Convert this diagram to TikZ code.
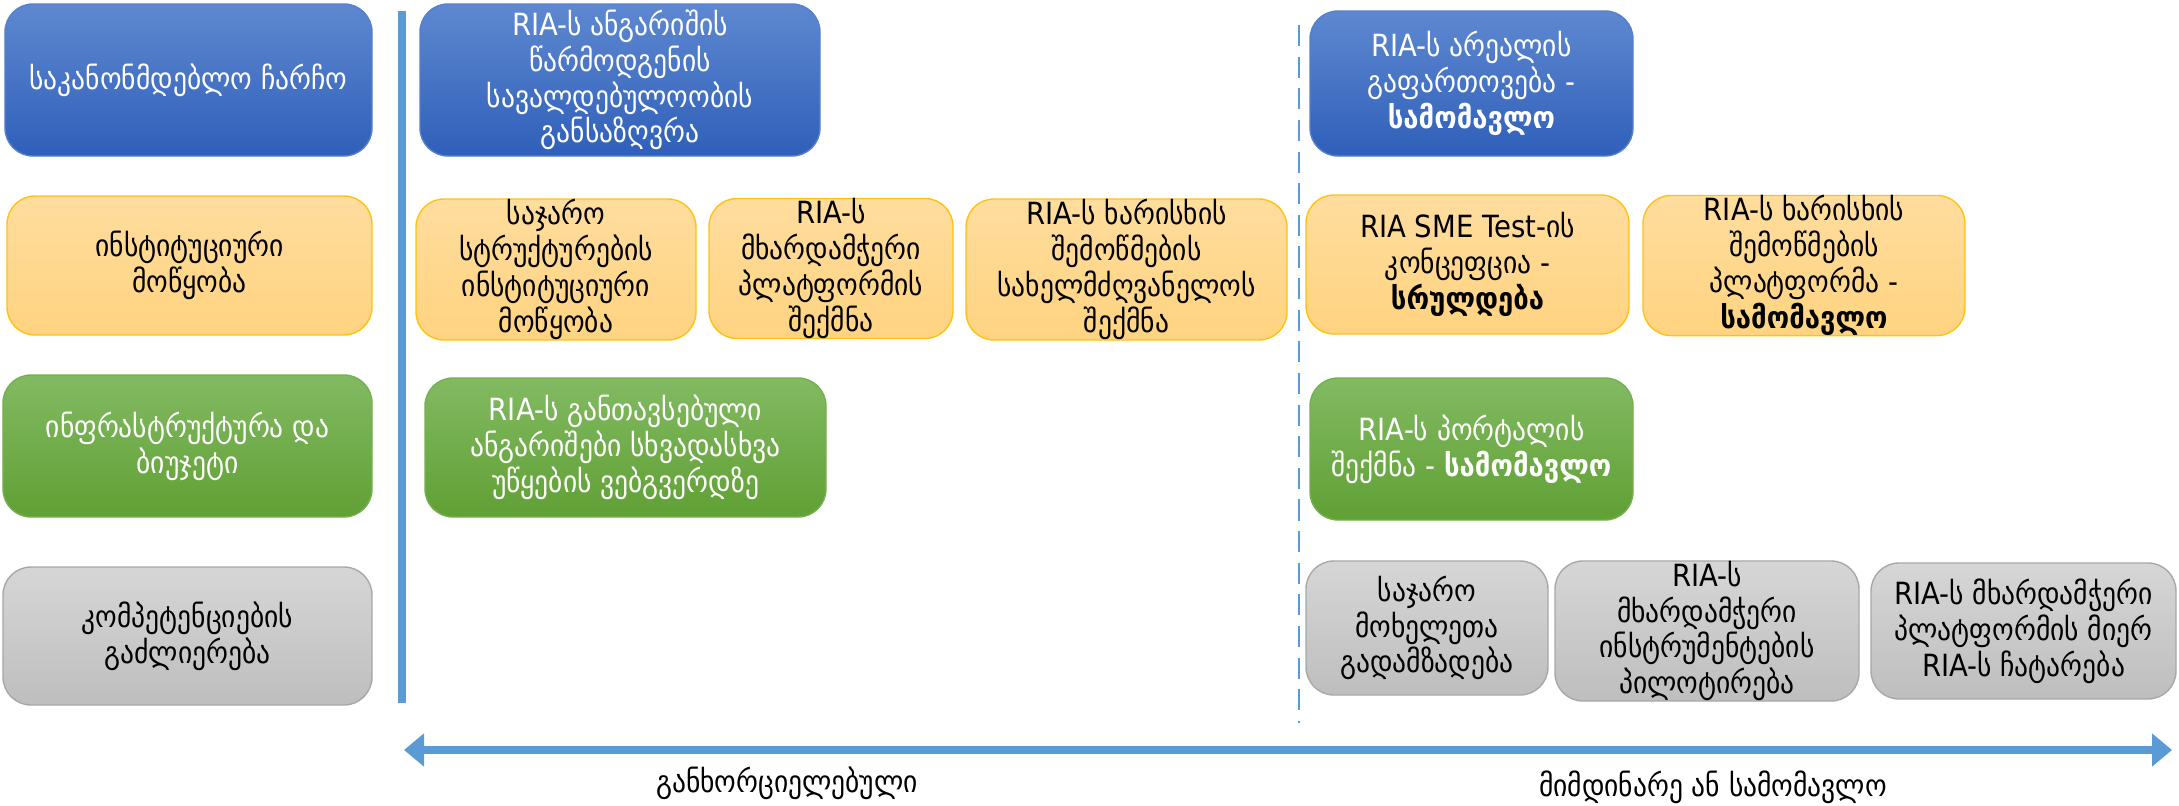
\documentclass[tikz,border=0pt]{standalone}
\usepackage{fontspec}
\setmainfont[FakeStretch=0.9]{DejaVu Sans}
\usepackage{tikz}
\usetikzlibrary{arrows.meta}

\definecolor{bluetop}{RGB}{94,136,208}
\definecolor{bluebot}{RGB}{47,95,185}
\definecolor{orangetop}{RGB}{255,221,158}
\definecolor{orangebot}{RGB}{255,211,128}
\definecolor{orangeline}{RGB}{255,194,20}
\definecolor{greentop}{RGB}{130,186,98}
\definecolor{greenbot}{RGB}{96,160,52}
\definecolor{graytop}{RGB}{214,214,214}
\definecolor{graybot}{RGB}{190,190,190}
\definecolor{grayline}{RGB}{168,168,168}
\definecolor{axisblue}{RGB}{91,155,213}

\tikzset{
  box/.style={rounded corners=0.28cm, align=center, inner sep=0pt,
    font=\fontsize{8.7}{10.2}\selectfont},
  bluebox/.style={box, top color=bluetop, bottom color=bluebot, draw=bluetop!80!bluebot, text=white},
  orangebox/.style={box, top color=orangetop, bottom color=orangebot, draw=orangeline, text=black},
  greenbox/.style={box, top color=greentop, bottom color=greenbot, draw=greentop!60!greenbot, text=white},
  graybox/.style={box, top color=graytop, bottom color=graybot, draw=grayline, text=black},
  lbl/.style={font=\fontsize{8.7}{10.2}\selectfont}
}

\begin{document}
\begin{tikzpicture}
        \useasboundingbox (0,0) rectangle (21.79,-8.05);

        % left column: the four areas
        \node[bluebox, minimum width=3.67cm, minimum height=1.52cm] (K1) at (1.885,-0.80) {საკანონმდებლო ჩარჩო};
        \node[orangebox, minimum width=3.65cm, minimum height=1.39cm] (K2) at (1.895,-2.655) {ინსტიტუციური\\მოწყობა};
        \node[greenbox, minimum width=3.69cm, minimum height=1.42cm] (K3) at (1.875,-4.46) {ინფრასტრუქტურა და\\ბიუჯეტი};
        \node[graybox, minimum width=3.69cm, minimum height=1.38cm] (K4) at (1.875,-6.36) {კომპეტენციების\\გაძლიერება};

        % solid line after the left column
        \coordinate (s1) at (4.02,-0.11);
        \coordinate (s2) at (4.02,-7.03);
        \draw[axisblue, line width=2pt] (s1) -- (s2);

        % done: boxes left of the dashed line
        \node[bluebox, minimum width=4.00cm, minimum height=1.52cm] (D11) at (6.20,-0.80) {RIA-ს ანგარიშის\\წარმოდგენის\\სავალდებულოობის\\განსაზღვრა};
        \node[orangebox, minimum width=2.80cm, minimum height=1.41cm] (D21) at (5.56,-2.695) {საჯარო\\სტრუქტურების\\ინსტიტუციური\\მოწყობა};
        \node[orangebox, minimum width=2.44cm, minimum height=1.39cm] (D22) at (8.31,-2.685) {RIA-ს\\მხარდამჭერი\\პლატფორმის\\შექმნა};
        \node[orangebox, minimum width=3.21cm, minimum height=1.41cm] (D23) at (11.265,-2.695) {RIA-ს ხარისხის\\შემოწმების\\სახელმძღვანელოს\\შექმნა};
        \node[greenbox, minimum width=4.01cm, minimum height=1.39cm] (D31) at (6.255,-4.475) {RIA-ს განთავსებული\\ანგარიშები სხვადასხვა\\უწყების ვებგვერდზე};

        % dashed line between done and future
        \coordinate (d1) at (12.99,-0.25);
        \coordinate (d2) at (12.99,-7.23);
        \draw[axisblue, line width=0.6pt, dash pattern=on 6pt off 3pt] (d1) -- (d2);

        % ongoing or future: boxes right of the dashed line
        \node[bluebox, minimum width=3.23cm, minimum height=1.45cm] (F11) at (14.715,-0.835) {RIA-ს არეალის\\გაფართოვება -\\\textbf{სამომავლო}};
        \node[orangebox, minimum width=3.23cm, minimum height=1.39cm] (F21) at (14.675,-2.645) {RIA SME Test-ის\\კონცეფცია -\\\textbf{სრულდება}};
        \node[orangebox, minimum width=3.22cm, minimum height=1.39cm] (F22) at (18.04,-2.655) {RIA-ს ხარისხის\\შემოწმების\\პლატფორმა -\\\textbf{სამომავლო}};
        \node[greenbox, minimum width=3.23cm, minimum height=1.42cm] (F31) at (14.715,-4.49) {RIA-ს პორტალის\\შექმნა - \textbf{სამომავლო}};
        \node[graybox, minimum width=2.42cm, minimum height=1.34cm] (F41) at (14.27,-6.28) {საჯარო\\მოხელეთა\\გადამზადება};
        \node[graybox, minimum width=3.04cm, minimum height=1.36cm] (F42) at (17.07,-6.31) {RIA-ს\\მხარდამჭერი\\ინსტრუმენტების\\პილოტირება};
        \node[graybox, minimum width=3.05cm, minimum height=1.36cm] (F43) at (20.235,-6.31) {RIA-ს მხარდამჭერი\\პლატფორმის მიერ\\RIA-ს ჩატარება};

        % time arrow with both heads
        \coordinate (a1) at (4.04,-7.50);
        \coordinate (a2) at (21.72,-7.50);
        \draw[axisblue, line width=2pt, {Triangle[length=0.2cm,width=0.32cm]}-{Triangle[length=0.2cm,width=0.32cm]}] (a1) -- (a2);

        % write the two labels under the arrow
        \node[lbl] (T1) at (7.87,-7.83) {განხორციელებული};
        \node[lbl] (T2) at (17.13,-7.87) {მიმდინარე ან სამომავლო};

      \end{tikzpicture}
\end{document}
